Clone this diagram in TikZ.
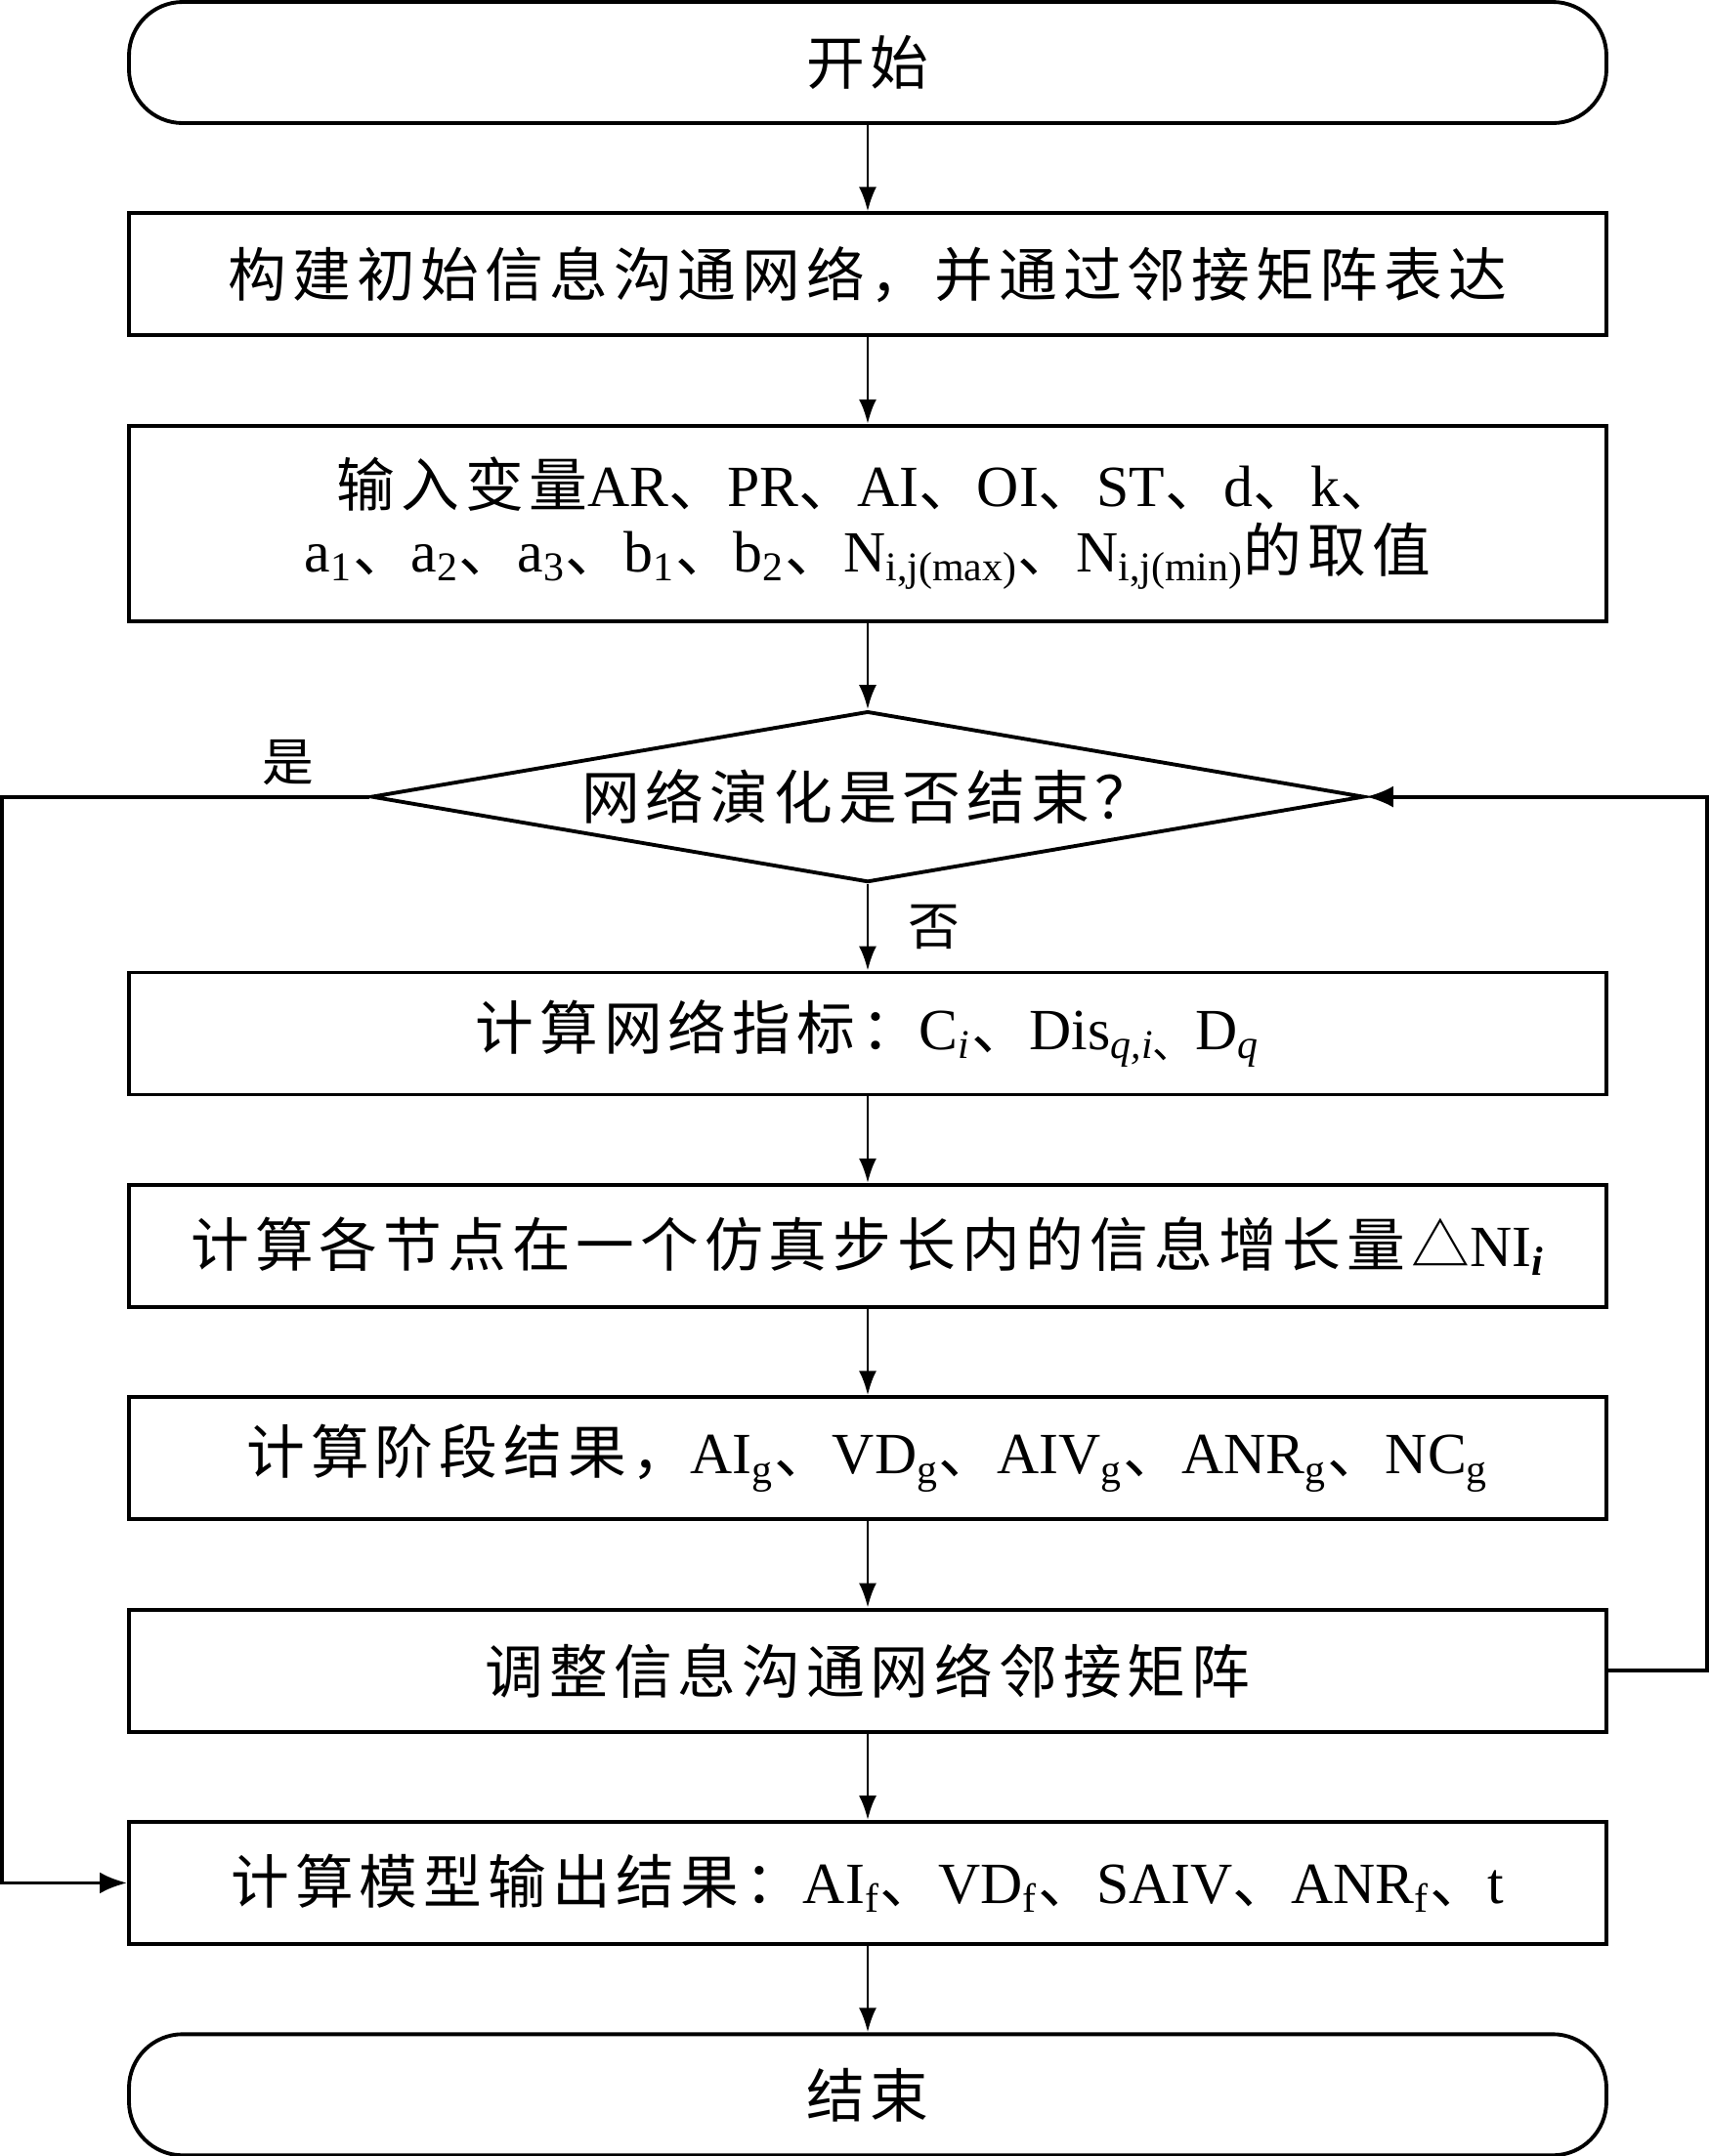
\documentclass[tikz,border=0pt]{standalone}
\usepackage{fontspec}
\setmainfont{Liberation Serif}
\newfontfamily\zh[LetterSpace=10]{Noto Sans CJK SC}
\newcommand\dun{{\zh 、}}
\usetikzlibrary{positioning}
\usetikzlibrary{shapes.geometric}
\usetikzlibrary{arrows.meta}

\begin{document}
\begin{tikzpicture}[node distance=0.885cm,
  every node/.style={font=\fontsize{17}{19}\selectfont},
  terminal/.style={draw, line width=1.1pt, rounded corners=5.5mm, minimum width=15.12cm, minimum height=1.24cm},
  process/.style={draw, line width=1.1pt, minimum width=15.12cm, minimum height=1.25cm, align=center},
  decision/.style={draw, line width=1.1pt, diamond, aspect=5.8, inner sep=0pt, minimum width=10.16cm, minimum height=1.75cm},
  flow/.style={-{Latex[length=2.5mm,width=1.8mm]}, line width=0.8pt},
  backline/.style={-{Latex[length=2.8mm,width=2.2mm]}, line width=1.1pt},
  tag/.style={inner sep=0pt, font=\fontsize{15}{15}\selectfont}]
  \useasboundingbox (0,0) rectangle (17.5,-22.07);
  \coordinate (leftx) at (0.02,0);
  \coordinate (rightx) at (17.47,0);

  \node[terminal] (start) at (8.88,-0.64) {\zh 开始};
  \node[process, below=of start] (build) {\zh 构建初始信息沟通网络，并通过邻接矩阵表达};
  \node[process, below=of build, minimum height=2cm] (input) {{\zh 输入变量}AR\dun PR\dun AI\dun OI\dun ST\dun d\dun k\dun\\
    a\textsubscript{1}\dun a\textsubscript{2}\dun a\textsubscript{3}\dun b\textsubscript{1}\dun b\textsubscript{2}\dun N\textsubscript{i,j(max)}\dun N\textsubscript{i,j(min)}{\zh 的取值}};
  \node[decision, below=of input] (judge) {\zh 网络演化是否结束？};
  \node[process, below=of judge] (metric) {{\zh 计算网络指标：}C\textsubscript{\itshape i}\dun Dis\textsubscript{\itshape q,i\dun}D\textsubscript{\itshape q}};
  \node[process, below=of metric] (gain) {{\zh 计算各节点在一个仿真步长内的信息增长量△}NI\textsubscript{\bfseries\itshape i}};
  \node[process, below=of gain] (stage) {{\zh 计算阶段结果，}AI\textsubscript{g}\dun VD\textsubscript{g}\dun AIV\textsubscript{g}\dun ANR\textsubscript{g}\dun NC\textsubscript{g}};
  \node[process, below=of stage] (adjust) {\zh 调整信息沟通网络邻接矩阵};
  \node[process, below=of adjust] (output) {{\zh 计算模型输出结果：}AI\textsubscript{f}\dun VD\textsubscript{f}\dun SAIV\dun ANR\textsubscript{f}\dun t};
  \node[terminal, below=of output] (finish) {\zh 结束};

  \draw[flow] (start) -- (build);
  \draw[flow] (build) -- (input);
  \draw[flow] (input) -- (judge);
  \draw[flow] (judge) -- node[tag, right=4mm] (no) {\zh 否} (metric);
  \draw[flow] (metric) -- (gain);
  \draw[flow] (gain) -- (stage);
  \draw[flow] (stage) -- (adjust);
  \draw[flow] (adjust) -- (output);
  \draw[flow] (output) -- (finish);
  % loop back and exit
  \draw[backline] (judge.west) -- node[tag, above=1mm, pos=0.22] (yes) {\zh 是} (judge.west -| leftx) |- (output.west);
  \draw[backline] (adjust.east) -| (rightx |- judge.east) -- (judge.east);
\end{tikzpicture}
\end{document}
